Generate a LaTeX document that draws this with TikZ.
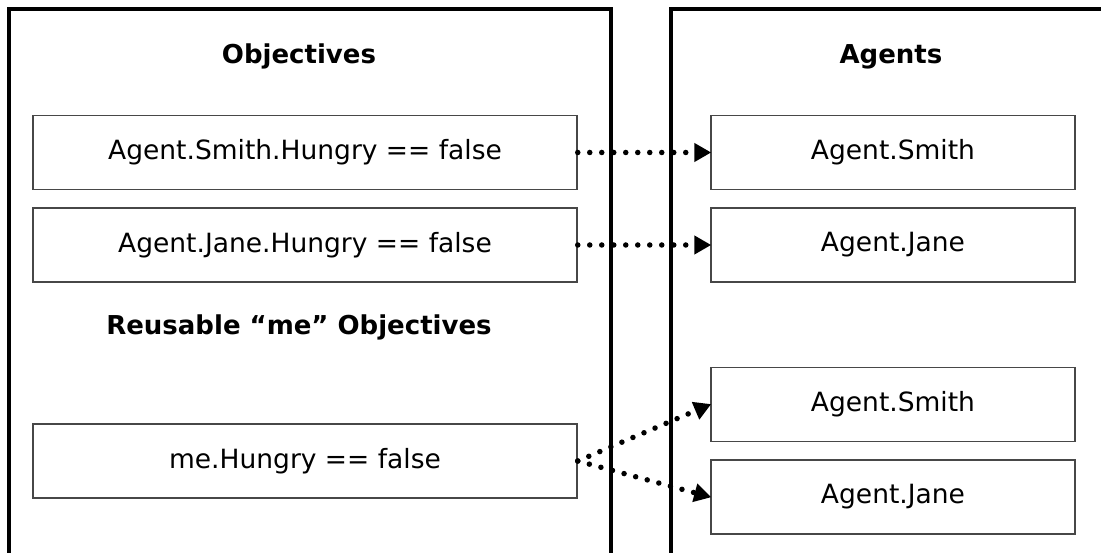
\documentclass[tikz,border=0pt]{standalone}
\usepackage{fontspec}
\setmainfont{DejaVu Sans}
\usetikzlibrary{arrows.meta}
\begin{document}
\begin{tikzpicture}[x=1pt,y=-1pt,
  panel/.style={line width=4pt, line join=miter},
  heading/.style={font=\fontsize{26}{30}\selectfont\bfseries, inner sep=0pt, anchor=base},
  itembox/.style={draw=black!72, line width=1.5pt, rectangle, inner sep=0pt,
    minimum height=74pt, font=\fontsize{26.5}{30}\selectfont},
  objbox/.style={itembox, minimum width=544pt},
  agentbox/.style={itembox, minimum width=364pt},
  link/.style={line width=5.5pt, line cap=round, dash pattern=on 0pt off 12pt,
    -{Triangle[length=17pt,width=18pt]}, shorten >=-1pt}
]
\useasboundingbox (0,0) rectangle (1101,553);
\fill[white] (0,0) rectangle (1101,553);

% the two column panels, open at the bottom (and on the right)
\draw[panel] (9,560) -- (9,9.5) -- (611,9.5) -- (611,560);
\draw[panel] (671,560) -- (671,9.5) -- (1110,9.5);

% headings
\node[heading] (hobj) at (299,64) {Objectives};
\node[heading] (hag) at (891,64) {Agents};
\node[heading] (hme) at (299,335) {Reusable “me” Objectives};

% objective boxes
\node[objbox] (o1) at (305,152.5) {Agent.Smith.Hungry == false};
\node[objbox] (o2) at (305,245) {Agent.Jane.Hungry == false};
\node[objbox] (o3) at (305,461) {me.Hungry == false};

% agent boxes
\node[agentbox] (a1) at (893,152.5) {Agent.Smith};
\node[agentbox] (a2) at (893,245) {Agent.Jane};
\node[agentbox] (a3) at (893,404.5) {Agent.Smith};
\node[agentbox] (a4) at (893,497) {Agent.Jane};

% bindings
\draw[link] (o1.east) -- (a1.west);
\draw[link] (o2.east) -- (a2.west);
\draw[link] (o3.east) -- (a3.west);
\draw[link] (o3.east) -- (a4.west);
\end{tikzpicture}
\end{document}
